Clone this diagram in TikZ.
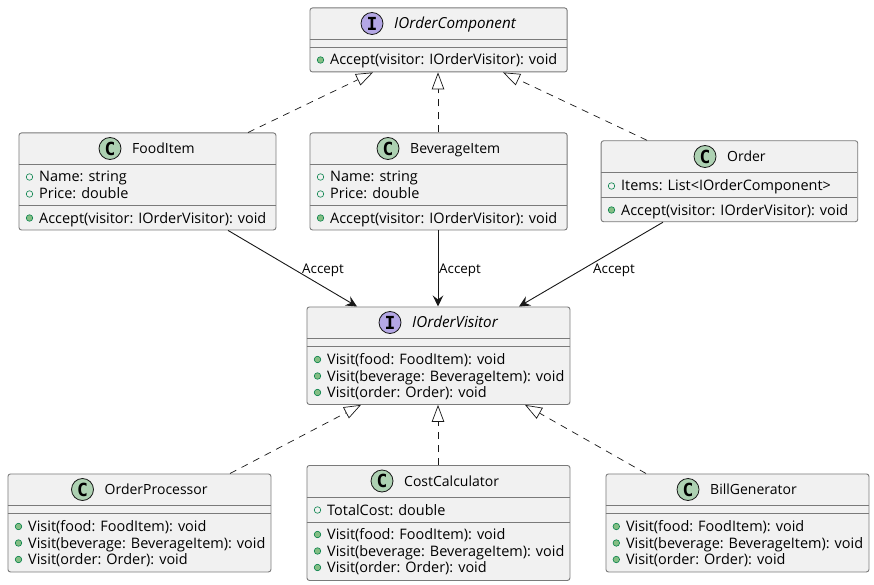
\documentclass[tikz,border=0pt]{standalone}
\usepackage{fontspec}
\setmainfont{Open Sans}
\newfontfamily\badgefont{DejaVu Sans Mono}
\usetikzlibrary{arrows.meta}
\definecolor{boxfill}{HTML}{F1F1F1}
\definecolor{boxline}{HTML}{7A7A7A}
\definecolor{ink}{HTML}{181818}
\definecolor{cgreen}{HTML}{ADD1B2}
\definecolor{ipurple}{HTML}{B4A7E5}
\definecolor{visline}{HTML}{038048}
\definecolor{visfill}{HTML}{84BE84}
\tikzset{
  x=1pt,y=-1pt,
  umlbox/.style={draw=boxline,fill=boxfill,line width=0.9pt,rounded corners=2.5pt,minimum width=0pt,inner sep=0pt,anchor=north west},
  sepline/.style={draw=boxline,line width=0.9pt},
  titletext/.style={anchor=base west,inner sep=0pt,font=\fontsize{14}{14}\selectfont,text=black},
  italictitle/.style={anchor=base west,inner sep=0pt,font=\itshape\fontsize{15.2}{15.2}\selectfont,text=black},
  membertext/.style={anchor=base west,inner sep=0pt,font=\fontsize{14.45}{14.45}\selectfont,text=black},
  edgelabel/.style={anchor=base west,inner sep=0pt,font=\fontsize{13.4}{13.4}\selectfont,text=black},
  badge/.style={circle,draw=ink,line width=0.8pt,minimum size=22pt,inner sep=0pt,font=\badgefont\bfseries\fontsize{18}{18}\selectfont,text=black},
  method/.style={circle,draw=visline,fill=visfill,line width=0.6pt,minimum size=6.5pt,inner sep=0pt},
  field/.style={circle,draw=visline,fill=boxfill,line width=0.6pt,minimum size=6.5pt,inner sep=0pt},
  realize/.style={draw=ink,line width=0.7pt,dash pattern=on 7pt off 6pt,-{Triangle[open,fill=white,length=17pt,width=12.5pt]}},
  assoc/.style={draw=ink,line width=0.9pt,-{Stealth[length=11pt,width=10.5pt,inset=4pt]}},
}
% name, x1, y1, x2, y2, sep1, sep2
\newcommand{\umlbox}[7]{%
  \pgfmathsetmacro{\bw}{#4-#2}\pgfmathsetmacro{\bh}{#5-#3}%
  \node[umlbox,minimum width=\bw pt,minimum height=\bh pt] (#1) at (#2,#3) {};
  \draw[sepline] (#2,#6) -- (#4,#6);
  \draw[sepline] (#2,#7) -- (#4,#7);
}
\newcommand{\memberline}[5]{% name, kind, dotx, y, text
  \node[#2] (#1d) at (#3,#4) {};
  \pgfmathsetmacro{\tx}{#3+9.5}\pgfmathsetmacro{\ty}{#4+5}%
  \node[membertext] (#1t) at (\tx,\ty) {#5};
}
\newcommand{\umltitle}[7][titletext]{% style, name, fill, letter, cx, cy, text
  \node[badge,fill=#3] (#2b) at (#5,#6) {#4};
  \pgfmathsetmacro{\tx}{#5+22}\pgfmathsetmacro{\ty}{#6+5}%
  \node[#1] (#2n) at (\tx,\ty) {#7};
}
\begin{document}
\begin{tikzpicture}
\useasboundingbox (0,0) rectangle (874,585);
\fill[white] (0,0) rectangle (874,585);

\umlbox{comp}{309.5}{7.5}{566.7}{71.5}{39.5}{47.5}
\umltitle[italictitle]{compT}{ipurple}{I}{372}{23.5}{IOrderComponent}
\memberline{compA}{method}{320.5}{60}{Accept(visitor: IOrderVisitor): void}

\umlbox{food}{18.5}{132.5}{275.5}{229.5}{164.5}{205.5}
\umltitle{foodT}{cgreen}{C}{110}{148.5}{FoodItem}
\memberline{foodN}{field}{29.5}{177}{Name: string}
\memberline{foodP}{field}{29.5}{194}{Price: double}
\memberline{foodA}{method}{29.5}{218}{Accept(visitor: IOrderVisitor): void}

\umlbox{bev}{309.5}{132.5}{566.7}{229.5}{164.5}{205.5}
\umltitle{bevT}{cgreen}{C}{388}{148.5}{BeverageItem}
\memberline{bevN}{field}{320.5}{177}{Name: string}
\memberline{bevP}{field}{320.5}{194}{Price: double}
\memberline{bevA}{method}{320.5}{218}{Accept(visitor: IOrderVisitor): void}

\umlbox{ord}{600.7}{140.3}{857.3}{221.3}{172.5}{197.3}
\umltitle{ordT}{cgreen}{C}{705}{156.5}{Order}
\memberline{ordI}{field}{611.5}{186}{Items: List<IOrderComponent>}
\memberline{ordA}{method}{611.5}{210}{Accept(visitor: IOrderVisitor): void}

\umlbox{vis}{306.5}{306.5}{569.5}{404}{338.5}{346.5}
\umltitle[italictitle]{visT}{ipurple}{I}{390}{322.5}{IOrderVisitor}
\memberline{visF}{method}{317.5}{359.5}{Visit(food: FoodItem): void}
\memberline{visB}{method}{317.5}{376}{Visit(beverage: BeverageItem): void}
\memberline{visO}{method}{317.5}{392.5}{Visit(order: Order): void}

\umlbox{proc}{7.5}{473.5}{270.5}{571.5}{505.5}{513.5}
\umltitle{procT}{cgreen}{C}{82.5}{489.5}{OrderProcessor}
\memberline{procF}{method}{18.5}{526.5}{Visit(food: FoodItem): void}
\memberline{procB}{method}{18.5}{543}{Visit(beverage: BeverageItem): void}
\memberline{procO}{method}{18.5}{559.5}{Visit(order: Order): void}

\umlbox{cost}{306.5}{465}{569.5}{580}{497}{522}
\umltitle{costT}{cgreen}{C}{382}{481}{CostCalculator}
\memberline{costC}{field}{317.5}{510}{TotalCost: double}
\memberline{costF}{method}{317.5}{534.5}{Visit(food: FoodItem): void}
\memberline{costB}{method}{317.5}{551}{Visit(beverage: BeverageItem): void}
\memberline{costO}{method}{317.5}{567.5}{Visit(order: Order): void}

\umlbox{bill}{605.5}{473.5}{868.5}{571.5}{505.5}{513.5}
\umltitle{billT}{cgreen}{C}{688}{489.5}{BillGenerator}
\memberline{billF}{method}{616.3}{526.5}{Visit(food: FoodItem): void}
\memberline{billB}{method}{616.3}{543}{Visit(beverage: BeverageItem): void}
\memberline{billO}{method}{616.3}{559.5}{Visit(order: Order): void}

% realizations
\draw[realize] ([xshift=229.5pt]food.north west) -- ([xshift=63.5pt]comp.south west);
\draw[realize] ([xshift=128.5pt]bev.north west) -- ([xshift=128.5pt]comp.south west);
\draw[realize] ([xshift=46.3pt]ord.north west) -- ([xshift=193.5pt]comp.south west);
\draw[realize] ([xshift=222.5pt]proc.north west) -- ([xshift=54.5pt]vis.south west);
\draw[realize] ([xshift=131.5pt]cost.north west) -- ([xshift=131.5pt]vis.south west);
\draw[realize] ([xshift=40.5pt]bill.north west) -- ([xshift=218.5pt]vis.south west);
% associations
\draw[assoc] ([xshift=209.5pt]food.south west) -- ([xshift=50.5pt]vis.north west);
\draw[assoc] ([xshift=128.5pt]bev.south west) -- ([xshift=131.5pt]vis.north west);
\draw[assoc] ([xshift=62.3pt]ord.south west) -- ([xshift=212.5pt]vis.north west);

\node[edgelabel] (l1) at (302,273.5) {Accept};
\node[edgelabel] (l2) at (439,273.5) {Accept};
\node[edgelabel] (l3) at (593,273.5) {Accept};
\end{tikzpicture}
\end{document}
